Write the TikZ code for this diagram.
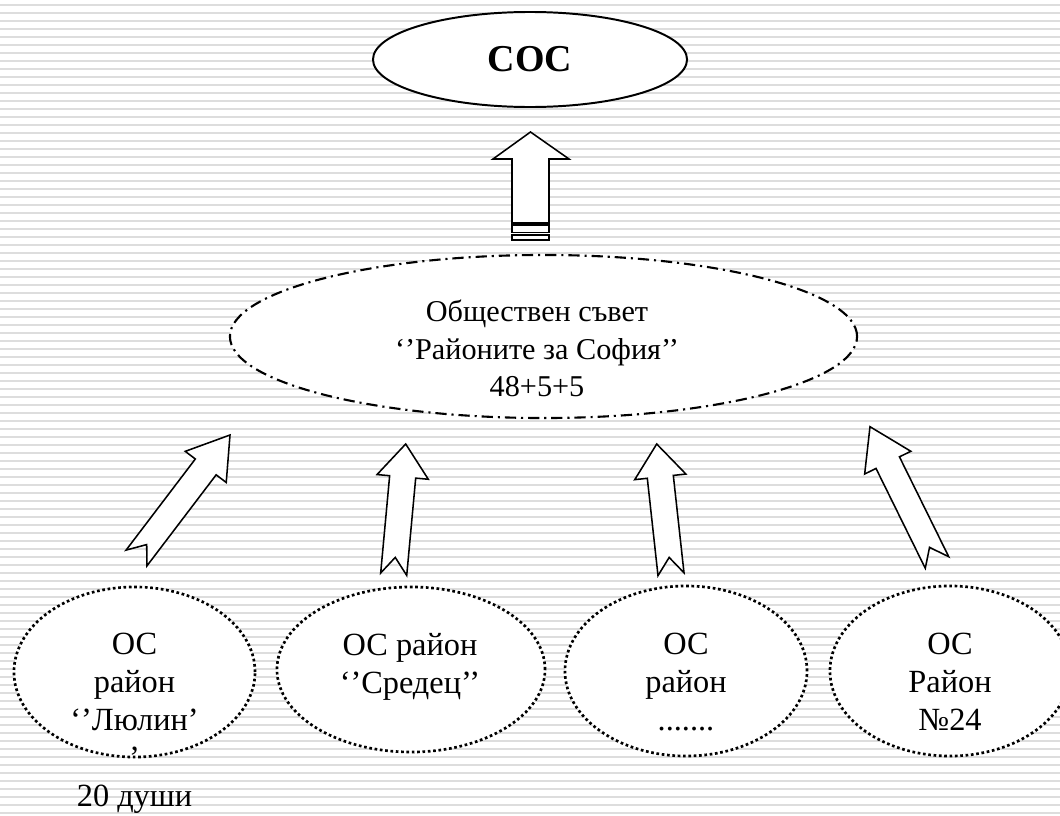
\documentclass[tikz,border=0pt]{standalone}
\usepackage{fontspec}
\setmainfont{Liberation Serif}
\usepackage{tikz}
\usetikzlibrary{calc,shapes}
\definecolor{linegray}{RGB}{221,221,221}

\begin{document}
\begin{tikzpicture}[x=0.025cm,y=-0.025cm]
    \fontsize{23pt}{27pt}\selectfont
    \tikzstyle{bgline} = [draw=linegray, line width=1.4pt]
    \tikzstyle{oval} = [draw, ellipse, fill=white, inner sep=0pt]
    \tikzstyle{main} = [oval, line width=1.4pt]
    \tikzstyle{council} = [oval, line width=1.5pt,
    dash pattern=on 8pt off 3.5pt on 1.5pt off 3.5pt]
    \tikzstyle{district} = [oval, line width=1.9pt,
    dash pattern=on 1.9pt off 1.9pt, minimum height=4.25cm]
    \tikzstyle{txt} = [anchor=north, inner sep=0pt, align=center]
    \tikzstyle{block} = [draw, fill=white, line width=1.1pt]

    \useasboundingbox (0,0) rectangle (1060,816);
    \fill[white] (0,0) rectangle (1060,816);
    \foreach \y in {5,13,...,813}
        \draw[bgline] (0,\y) -- (1060,\y);

    \draw
    (530,59.5) node [main,minimum width=7.85cm,minimum height=2.375cm] (sos)
        {\fontsize{27pt}{32pt}\selectfont\bfseries СОС}
    (543.5,336.5) node [council,minimum width=15.675cm,minimum height=4.075cm] (council) {}
    (537,300) node [txt,font=\fontsize{21.5pt}{26.5pt}\selectfont] (counciltext)
        {Обществен съвет\\‘’Районите за София’’\\48+5+5}

    (134.5,672) node [district,minimum width=6.025cm] (lyulin) {}
    (411,669.5) node [district,minimum width=6.7cm,minimum height=4.125cm] (sredec) {}
    (686,671) node [district,minimum width=6.05cm] (rayon) {}
    (950,671) node [district,minimum width=6cm] (rayon24) {}

    (134.5,633) node [txt] (lyulintext) {ОС\\район\\‘’Люлин’\\’\\20 души}
    (410,633) node [txt] (sredectext) {ОС район\\‘’Средец’’}
    (686,633) node [txt] (rayontext) {ОС\\район\\.......}
    (950,633) node [txt] (rayon24text) {ОС\\Район\\№24}
;

    % arrow up to the top
    \draw[block] (530.5,132) -- (569,159) -- (549,159) -- (549,223)
        -- (512,223) -- (512,159) -- (493,159) -- cycle;
    \draw[block] (512,225) rectangle (549,232.5);
    \draw[block] (512,235) rectangle (549,240);

    % notched arrows from the districts
    \foreach \tx/\ty/\hx/\hy/\len in {136.5/558/230/435/28.5pt,
        393.7/574.2/405.7/444/23.5pt, 671/574.2/656.7/444/23.5pt,
        937/562.5/870/426.7/28.5pt}
    {
        \coordinate (t) at (\tx,\ty);
        \coordinate (h) at (\hx,\hy);
        \coordinate (b) at ($(h)!\len!(t)$);
        \draw[block] ($(t)!9.3pt!90:(h)$) -- ($(t)!12pt!(h)$) -- ($(t)!9.3pt!-90:(h)$)
            -- ($(b)!9.3pt!-90:(h)$) -- ($(b)!18.3pt!-90:(h)$) -- (h)
            -- ($(b)!18.3pt!90:(h)$) -- ($(b)!9.3pt!90:(h)$) -- cycle;
    }
\end{tikzpicture}
\end{document}
